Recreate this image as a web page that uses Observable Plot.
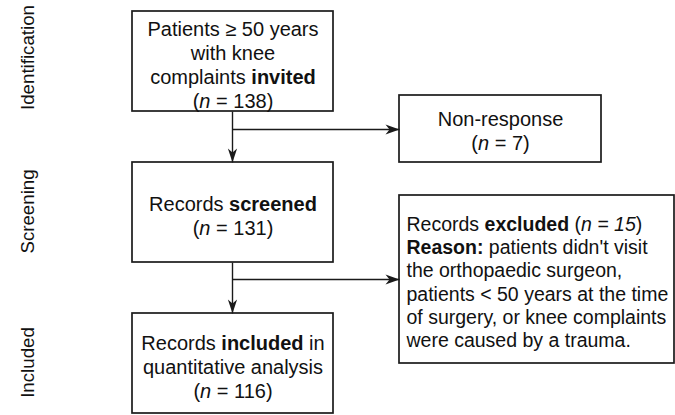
<!DOCTYPE html>
<html><head><meta charset="utf-8">
<script src="https://cdn.jsdelivr.net/npm/d3@7"></script>
<script src="https://cdn.jsdelivr.net/npm/@observablehq/plot@0.6"></script>
<style>html,body{margin:0;padding:0;background:#fff} svg{display:block}</style>
</head><body><div id="chart"></div>
<script>
// ---- data ----
const stageNames = ["Identification", "Screening", "Included"];
const mainCounts = [138, 131, 116];
const nonResponseCount = 7;
const excludedCount = 15;
const mainLabels = [
  `Patients ≥ 50 years\nwith knee\ncomplaints *invited*\n(_n_ = ${mainCounts[0]})`,
  `Records *screened*\n(_n_ = ${mainCounts[1]})`,
  `Records *included* in\nquantitative analysis\n(_n_ = ${mainCounts[2]})`
];
const sideLabels = [
  `Non-response\n(_n_ = ${nonResponseCount})`,
  `Records *excluded* (_n = ${excludedCount}_)\n*Reason:* patients didn't visit\nthe orthopaedic surgeon,\npatients < 50 years at the time\nof surgery, or knee complaints\nwere caused by a trauma.`
];

// ---- layout (units of the x / y scales) ----
const mainX = [132, 333];
const mainY = [[11, 111], [162, 262], [313, 413]];
const sideBoxes = [[399, 601, 95, 162], [399, 674, 195, 363]];
const stageY = [57, 211, 362];
const stageX = 28;
const branchY = [129, 279];
const trunkX = 232;

const boxes = [
  ...mainY.map(([y1, y2]) => ({x1: mainX[0], x2: mainX[1], y1, y2})),
  ...sideBoxes.map(([x1, x2, y1, y2]) => ({x1, x2, y1, y2}))
];
const mainText = mainLabels.map((text, i) => ({
  text, x: (mainX[0] + mainX[1]) / 2, y: (mainY[i][0] + mainY[i][1]) / 2 + 3
}));
const nonRespText = [{text: sideLabels[0], x: (sideBoxes[0][0] + sideBoxes[0][1]) / 2, y: (sideBoxes[0][2] + sideBoxes[0][3]) / 2 + 1}];
const exclText = [{text: sideLabels[1], x: sideBoxes[1][0] + 7, y: (sideBoxes[1][2] + sideBoxes[1][3]) / 2 + 2}];
const stageText = stageNames.map((text, i) => ({text, x: stageX, y: stageY[i]}));

const down = [0, 1].map(i => ({x1: trunkX, y1: mainY[i][1], x2: trunkX, y2: mainY[i + 1][0]}));
const right = [0, 1].map(i => ({x1: trunkX, y1: branchY[i], x2: sideBoxes[i][0], y2: branchY[i]}));

const arrowRight = {draw(ctx) { ctx.moveTo(0, 0); ctx.lineTo(-14, -5); ctx.lineTo(-10, 0); ctx.lineTo(-14, 5); ctx.closePath(); }};
const arrowDown = {draw(ctx) { ctx.moveTo(0, 0); ctx.lineTo(-4.6, -14); ctx.lineTo(0, -10); ctx.lineTo(4.6, -14); ctx.closePath(); }};

const ink = "#1a1a1a";
const plot = Plot.plot({
  width: 675, height: 415,
  margin: 0,
  x: {domain: [0, 675], range: [0, 675], axis: null},
  y: {domain: [0, 415], range: [0, 415], axis: null},
  style: {fontFamily: "'Liberation Sans', Arial, Helvetica, sans-serif", background: "#fff"},
  marks: [
    Plot.rect(boxes, {x1: "x1", x2: "x2", y1: "y1", y2: "y2", fill: "white", stroke: ink, strokeWidth: 1.7}),
    Plot.link([...down, ...right], {x1: "x1", y1: "y1", x2: "x2", y2: "y2", stroke: ink, strokeWidth: 1.4}),
    Plot.dot(down, {x: "x2", y: "y2", symbol: arrowDown, fill: ink, stroke: "none", r: 5}),
    Plot.dot(right, {x: "x2", y: "y2", symbol: arrowRight, fill: ink, stroke: "none", r: 5}),
    Plot.text(mainText, {x: "x", y: "y", text: "text", fontSize: 20, lineHeight: 1.2, fill: "#111"}),
    Plot.text(nonRespText, {x: "x", y: "y", text: "text", fontSize: 20, lineHeight: 1.2, fill: "#111"}),
    Plot.text(exclText, {x: "x", y: "y", text: "text", fontSize: 19.5, lineHeight: 1.2, textAnchor: "start", fill: "#111"}),
    Plot.text(stageText, {x: "x", y: "y", text: "text", fontSize: 18.7, rotate: -90, fill: "#111"})
  ]
});

// rich text: *bold*, _italic_
const ns = "http://www.w3.org/2000/svg";
function richify(node) {
  const s = node.textContent;
  if (!/[*_]/.test(s)) return;
  node.textContent = "";
  for (const p of s.split(/(\*[^*]+\*|_[^_]+_)/)) {
    if (!p) continue;
    if (p.length > 1 && p[0] === "*" && p.endsWith("*")) {
      const t = document.createElementNS(ns, "tspan"); t.setAttribute("font-weight", "bold"); t.textContent = p.slice(1, -1); node.appendChild(t);
    } else if (p.length > 1 && p[0] === "_" && p.endsWith("_")) {
      const t = document.createElementNS(ns, "tspan"); t.setAttribute("font-style", "italic"); t.textContent = p.slice(1, -1); node.appendChild(t);
    } else node.appendChild(document.createTextNode(p));
  }
}
plot.querySelectorAll("text").forEach(t => {
  const spans = t.querySelectorAll("tspan");
  if (spans.length) spans.forEach(richify); else richify(t);
});
document.getElementById("chart").appendChild(plot);
</script></body></html>
